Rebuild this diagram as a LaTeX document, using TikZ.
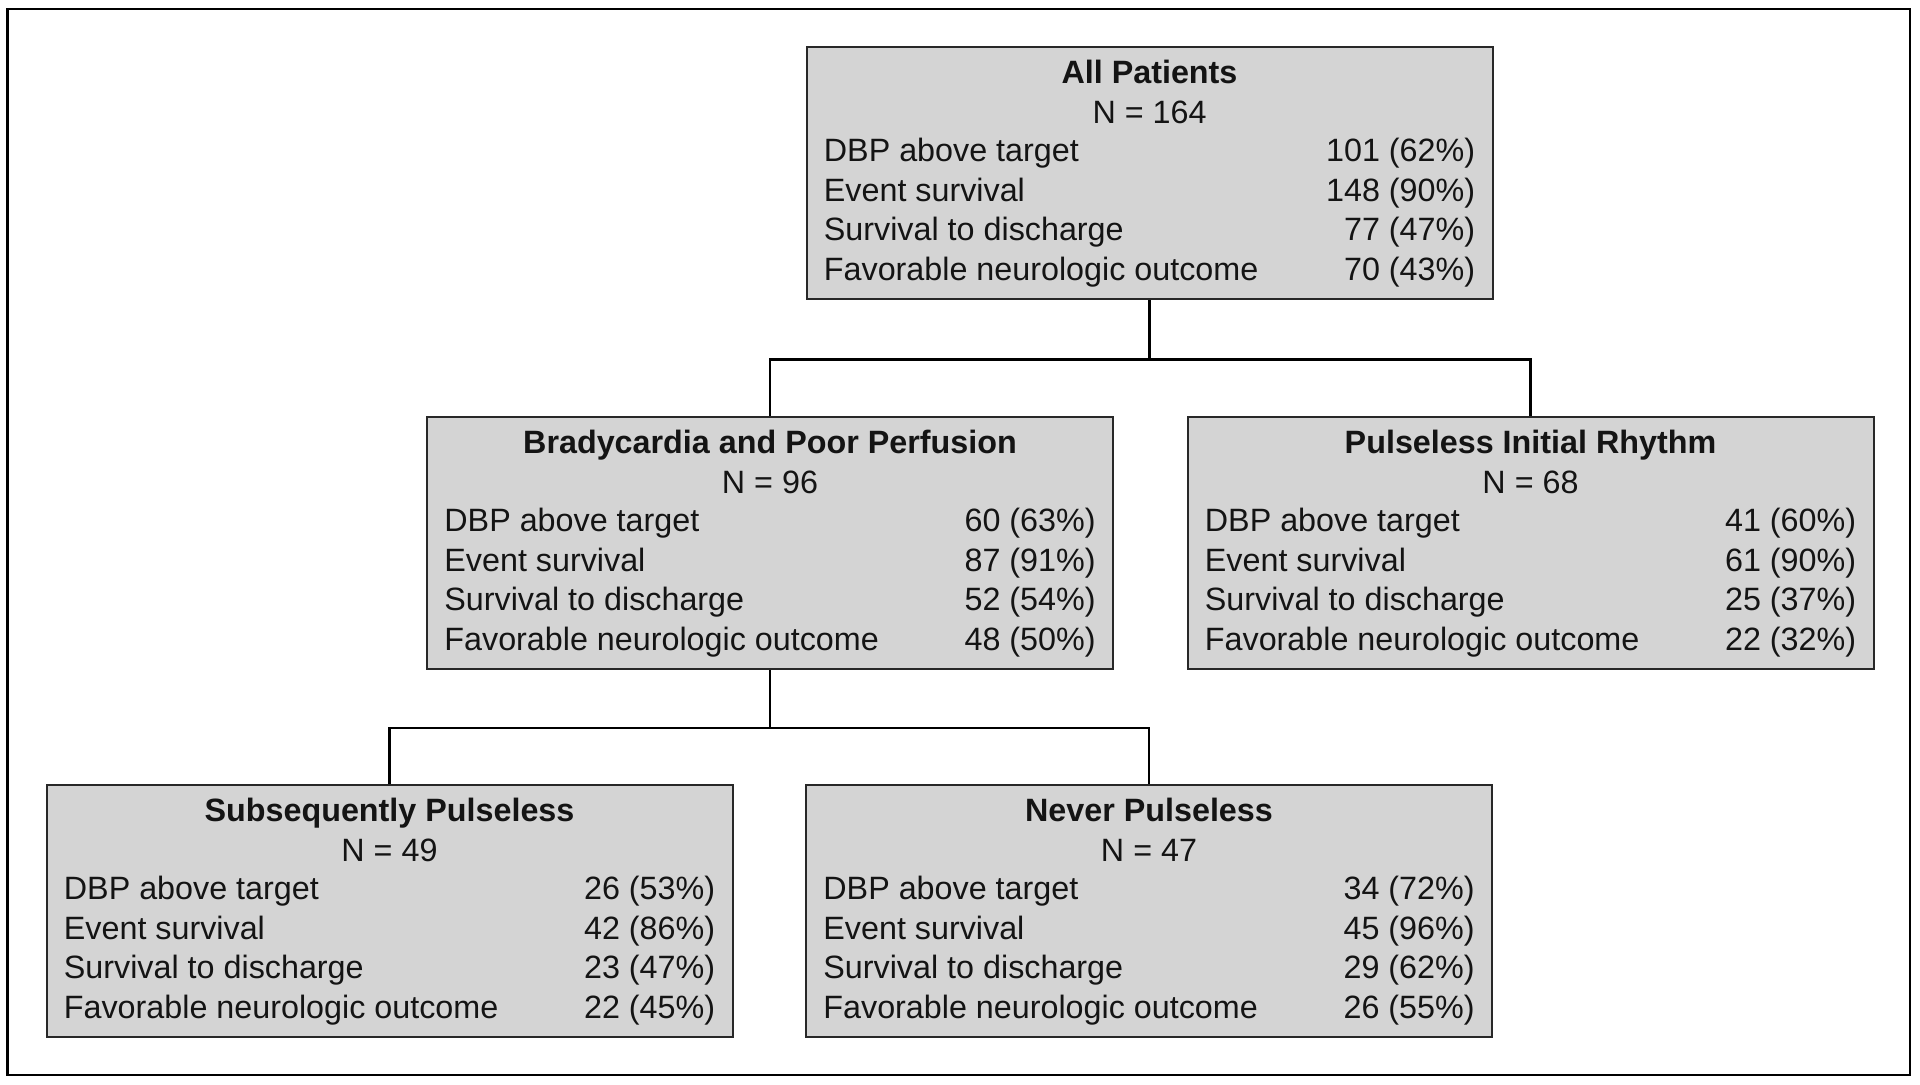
\documentclass[tikz,border=0pt]{standalone}
\usepackage{fontspec}
\setmainfont{Liberation Sans}
\usetikzlibrary{calc}
\definecolor{boxfill}{RGB}{212,212,212}
\definecolor{boxline}{RGB}{40,40,40}
\definecolor{txt}{RGB}{20,20,20}
\tikzset{
  statbox/.style={draw=boxline, line width=1pt, fill=boxfill, rectangle,
    minimum width=343pt, minimum height=126pt, inner sep=0pt, anchor=north west},
  conn/.style={draw=black, line width=1.35pt},
  lbl/.style={inner sep=0pt, text=txt, font=\fontsize{16.15pt}{19.6pt}\selectfont},
  ttl/.style={lbl, font=\fontsize{16.15pt}{19.6pt}\selectfont\bfseries},
  frame/.style={draw=black, line width=1.3pt}
}
\newcommand\drawStatBox[9]{%
  \node[statbox] (#1) at (#2,#3) {};
  \node[ttl, anchor=base] (#1-t) at ($(#1.north)+(0,37.5)$) {#4};
  \node[lbl, anchor=base] (#1-n) at ($(#1.north)+(0,77)$) {N = #5};
  \node[lbl, anchor=base west] (#1-l1) at ($(#1.north west)+(18,115.5)$) {DBP above target};
  \node[lbl, anchor=base west] (#1-l2) at ($(#1.north west)+(18,155)$) {Event survival};
  \node[lbl, anchor=base west] (#1-l3) at ($(#1.north west)+(18,194.5)$) {Survival to discharge};
  \node[lbl, anchor=base west] (#1-l4) at ($(#1.north west)+(18,234)$) {Favorable neurologic outcome};
  \node[lbl, anchor=base east] (#1-v1) at ($(#1.north east)+(-18,115.5)$) {#6};
  \node[lbl, anchor=base east] (#1-v2) at ($(#1.north east)+(-18,155)$) {#7};
  \node[lbl, anchor=base east] (#1-v3) at ($(#1.north east)+(-18,194.5)$) {#8};
  \node[lbl, anchor=base east] (#1-v4) at ($(#1.north east)+(-18,234)$) {#9};
}
\begin{document}
\begin{tikzpicture}[x=0.5pt, y=-0.5pt]
\useasboundingbox (0,0) rectangle (1920,1084);
\fill[white] (0,0) rectangle (1920,1084);
\draw[frame] (7.5,9) rectangle (1910,1075);

\drawStatBox{top}{805.5}{46}{All Patients}{164}{101 (62\%)}{148 (90\%)}{77 (47\%)}{70 (43\%)}
\drawStatBox{brady}{426}{416}{Bradycardia and Poor Perfusion}{96}{60 (63\%)}{87 (91\%)}{52 (54\%)}{48 (50\%)}
\drawStatBox{puls}{1186.5}{416}{Pulseless Initial Rhythm}{68}{41 (60\%)}{61 (90\%)}{25 (37\%)}{22 (32\%)}
\drawStatBox{subseq}{45.5}{784}{Subsequently Pulseless}{49}{26 (53\%)}{42 (86\%)}{23 (47\%)}{22 (45\%)}
\drawStatBox{never}{805}{784}{Never Pulseless}{47}{34 (72\%)}{45 (96\%)}{29 (62\%)}{26 (55\%)}

\coordinate (j1) at ($(top.south)+(0,59.5)$);
\draw[conn] (top.south) -- (j1);
\draw[conn] (brady.north) |- (j1) -| (puls.north);
\coordinate (j2) at ($(brady.south)+(0,58)$);
\draw[conn] (brady.south) -- (j2);
\draw[conn] (subseq.north) |- (j2) -| (never.north);
\end{tikzpicture}
\end{document}
